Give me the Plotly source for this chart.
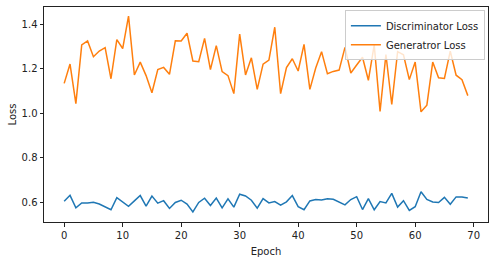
import plotly.graph_objects as go

epochs = list(range(70))

disc_loss = [0.604, 0.631, 0.575, 0.597, 0.597, 0.600, 0.592, 0.579, 0.566, 0.621,
             0.603, 0.582, 0.606, 0.630, 0.582, 0.628, 0.596, 0.607, 0.572, 0.599,
             0.609, 0.592, 0.556, 0.599, 0.618, 0.585, 0.619, 0.575, 0.615, 0.578,
             0.636, 0.628, 0.609, 0.573, 0.616, 0.597, 0.603, 0.587, 0.602, 0.630,
             0.580, 0.566, 0.606, 0.612, 0.610, 0.616, 0.613, 0.599, 0.588, 0.612,
             0.625, 0.567, 0.616, 0.566, 0.603, 0.597, 0.640, 0.578, 0.607, 0.563,
             0.580, 0.647, 0.613, 0.601, 0.599, 0.622, 0.591, 0.624, 0.624, 0.619]

gen_loss = [1.135, 1.222, 1.044, 1.308, 1.326, 1.255, 1.281, 1.296, 1.156, 1.332,
            1.292, 1.438, 1.173, 1.231, 1.170, 1.093, 1.197, 1.207, 1.176, 1.327,
            1.326, 1.361, 1.236, 1.233, 1.338, 1.197, 1.305, 1.188, 1.170, 1.089,
            1.357, 1.173, 1.250, 1.108, 1.222, 1.240, 1.388, 1.089, 1.206, 1.246,
            1.191, 1.311, 1.108, 1.204, 1.278, 1.179, 1.189, 1.195, 1.297, 1.182,
            1.218, 1.253, 1.149, 1.308, 1.009, 1.265, 1.040, 1.278, 1.264, 1.152,
            1.231, 1.007, 1.037, 1.231, 1.160, 1.157, 1.280, 1.172, 1.152, 1.080]

x_ticks = [0, 10, 20, 30, 40, 50, 60, 70]
y_ticks = [0.6, 0.8, 1.0, 1.2, 1.4]

fig = go.Figure()
fig.add_trace(go.Scatter(x=epochs, y=disc_loss, mode="lines", name="Discriminator Loss",
                         line=dict(color="#1f77b4", width=1.5)))
fig.add_trace(go.Scatter(x=epochs, y=gen_loss, mode="lines", name="Generatror Loss",
                         line=dict(color="#ff7f0e", width=1.5)))

axis_common = dict(showline=True, mirror=True, linecolor="#222", linewidth=1,
                   ticks="outside", ticklen=3.5, tickwidth=0.8, tickcolor="#222",
                   showgrid=False, zeroline=False, tickfont=dict(size=10, color="#222"))

fig.update_layout(
    width=497, height=262,
    margin=dict(l=44, r=9, t=6, b=38),
    paper_bgcolor="white", plot_bgcolor="white",
    font=dict(family="DejaVu Sans", size=10, color="#222"),
    xaxis=dict(range=[-3.45, 72.45], tickvals=x_ticks,
               title=dict(text="Epoch", standoff=8, font=dict(size=10)), **axis_common),
    yaxis=dict(range=[0.511, 1.479], tickvals=y_ticks, tickformat=".1f",
               title=dict(text="Loss", standoff=3, font=dict(size=10)), **axis_common),
    legend=dict(x=0.993, y=0.985, xanchor="right", yanchor="top",
                bordercolor="#ccc", borderwidth=1, bgcolor="rgba(255,255,255,0.8)",
                font=dict(size=10), itemwidth=30, tracegroupgap=0),
    showlegend=True,
)

fig.write_html("out.html")
